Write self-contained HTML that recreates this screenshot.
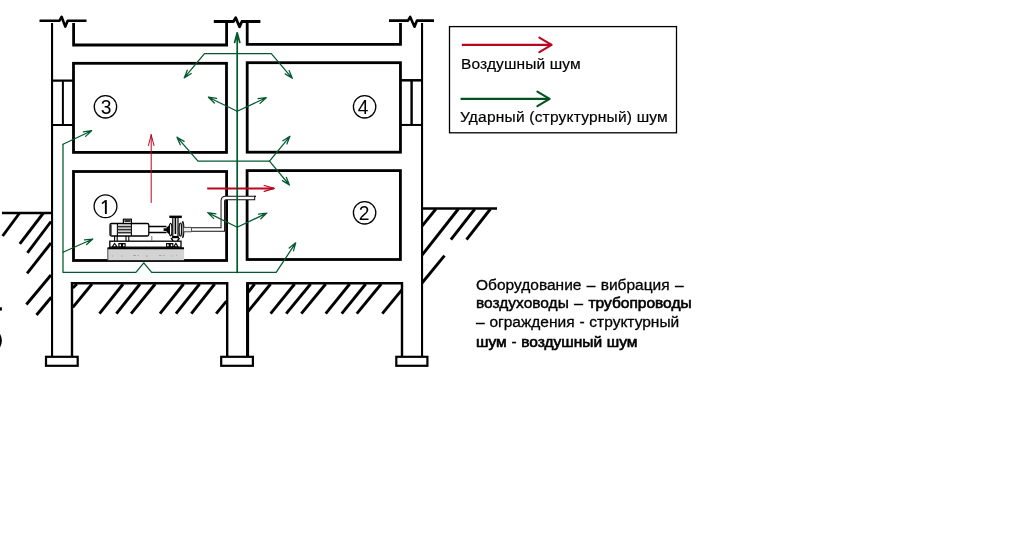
<!DOCTYPE html>
<html>
<head>
<meta charset="utf-8">
<style>
html,body{margin:0;padding:0;background:#fff;}
body{width:1012px;height:545px;overflow:hidden;position:relative;font-family:"Liberation Sans",sans-serif;}
svg{position:absolute;left:0;top:0;}
.t{will-change:transform;position:absolute;white-space:nowrap;color:#000;font-family:"Liberation Sans",sans-serif;}
.leg{-webkit-text-stroke:0.2px #000;font-size:15.5px;line-height:18px;}
.num{font-size:19.3px;line-height:22px;width:14px;text-align:center;}
.b1{-webkit-text-stroke:0.45px #000;}
.b2{-webkit-text-stroke:0.65px #000;}
.par{-webkit-text-stroke:0.3px #000;font-size:15.5px;line-height:19px;left:476.3px;}
</style>
</head>
<body>
<svg width="1012" height="545" viewBox="0 0 1012 545">
<!-- STRUCTURE -->
<g id="structure" fill="none" stroke="#000" stroke-linecap="butt" stroke-linejoin="miter">
  <!-- break lines on top -->
  <path d="M39.5 20.7 H59.5 L61.6 16.8 L65.3 26.6 L67.7 20.7 H86.5" stroke-width="2.6" stroke-linejoin="round"/>
  <path d="M213.8 21.5 H233.5 L235.7 17.8 L239.5 26.8 L241.9 21.5 H260.4" stroke-width="2.8" stroke-linejoin="round"/>
  <path d="M389 20.6 H408 L410.2 16.9 L414.5 26.7 L417 20.6 H434" stroke-width="2.6" stroke-linejoin="round"/>
  <!-- outer walls -->
  <path d="M52.05 23 V357" stroke-width="2.1"/>
  <path d="M422.05 23 V357" stroke-width="2.1"/>
  <!-- top partial rooms -->
  <path d="M73.6 23 V45 H226.6 V23" stroke-width="2.8"/>
  <path d="M247.2 23 V44.3 H400.5 V23" stroke-width="2.8"/>
  <!-- rooms -->
  <rect x="73.5" y="63.3" width="153" height="89.1" stroke-width="2.8"/>
  <rect x="247.2" y="62.7" width="153.25" height="89.5" stroke-width="2.8"/>
  <rect x="73.5" y="171.5" width="153.1" height="89" stroke-width="2.8"/>
  <rect x="247.1" y="170.6" width="153.3" height="88.9" stroke-width="2.8"/>
  <!-- windows -->
  <path d="M52 80.6 H73 M52 125.05 H73" stroke-width="2.05"/>
  <path d="M62.9 80.6 V125" stroke-width="2"/>
  <path d="M401 80.3 H422" stroke-width="2.5"/><path d="M401 124.95 H422" stroke-width="2"/>
  <path d="M411.6 80.3 V125" stroke-width="2.4"/>
  <!-- lower boxes -->
  <path d="M72 357 V283.3 H227.2 V357" stroke-width="2.4"/>
  <path d="M247.4 357 V283.3 H402 V357" stroke-width="2.4"/>
  <path d="M247.6 283 V357" stroke-width="3"/>
  <!-- footings -->
  <rect x="46" y="356.8" width="31.7" height="9" stroke-width="2.2" fill="#fff"/>
  <rect x="221.2" y="356.8" width="31.7" height="9" stroke-width="2.2" fill="#fff"/>
  <rect x="396.3" y="356.8" width="31.1" height="9" stroke-width="2.2" fill="#fff"/>
  <!-- ground lines -->
  <path d="M2 213 H52" stroke-width="2.5"/>
  <path d="M422 208.5 H497" stroke-width="2.5"/>
</g>
<!-- HATCH -->
<g id="hatch" fill="none" stroke="#000" stroke-width="2.9" stroke-linecap="butt">
  <!-- left ground -->
  <path d="M19.6 213 L2.6 236"/>
  <path d="M43.4 213 L19.8 243.9"/>
  <path d="M51 221.5 L27.4 252.8"/>
  <path d="M51 243 L27.1 273.3"/>
  <path d="M51 275 L26.4 304.5"/>
  <path d="M51.3 297.3 L36.5 315"/>
  <!-- right ground -->
  <path d="M435.9 209 L422 226.2"/>
  <path d="M458.3 209 L422 255.2"/>
  <path d="M474.8 209 L450.9 239.6"/>
  <path d="M490.4 209 L466.5 239.6"/>
  <path d="M444.5 255.6 L422 283"/>
  <!-- lower left box -->
  <path d="M76.9 284 L72.8 288"/>
  <path d="M92 284 L72.8 307.4"/>
  <path d="M123.1 284 L99.5 313.6"/>
  <path d="M140 284 L116.4 313.6"/>
  <path d="M155.2 284 L131.1 313.6"/>
  <path d="M183.6 284 L160 313.6"/>
  <path d="M199.6 284 L176 313.6"/>
  <path d="M214.7 284 L191.3 313.6"/>
  <path d="M226.5 301.1 L216.2 313.6"/>
  <!-- lower right box -->
  <path d="M254.6 284 L248.3 292.2"/>
  <path d="M270.6 284 L247.8 311.8"/>
  <path d="M294.6 284 L270.6 313.6"/>
  <path d="M310.6 284 L286.2 313.6"/>
  <path d="M325.7 284 L301.3 313.6"/>
  <path d="M349.7 284 L325.7 313.6"/>
  <path d="M365.7 284 L341.7 313.6"/>
  <path d="M381.2 284 L356.8 313.6"/>
  <path d="M402 289.6 L382.3 313.6"/>
</g>
<!-- edge artefacts -->
<rect x="0" y="307.3" width="1.9" height="3.3" fill="#000"/>
<path d="M-1 334.2 Q2.6 340.5 -1 347" stroke="#000" stroke-width="2.2" fill="none"/>
<!-- PUMP -->
<g id="pump" stroke="#000" fill="#fff" stroke-width="1.2">
  <!-- outlet pipe (white with thin outline) -->
  <path d="M183.5 229.55 H222.8 V201 Q222.8 197.95 225.8 197.95 H255.2" fill="none" stroke="#111" stroke-width="4.5" stroke-linejoin="miter"/>
  <path d="M183.5 229.55 H222.8 V201 Q222.8 197.95 225.8 197.95 H254.2" fill="none" stroke="#fff" stroke-width="2.5" stroke-linejoin="miter"/>
  <path d="M254.6 196.4 H256" fill="none" stroke="#111" stroke-width="1.2"/>
  <!-- concrete base -->
  <rect x="107.5" y="248.6" width="76.6" height="11.6" fill="#d3d3d3" stroke="none"/>
  <path d="M107.6 248.2 H184" stroke-width="2" fill="none"/>
  <path d="M107.8 248 V260" stroke="#444" stroke-width="0.9" fill="none"/>
  <g stroke="#999" stroke-width="0.8" fill="none"><path d="M112 256 h1 M121 256 h1.5 M133 255.5 h3 M137.5 255.5 h1.5 M146 256 h2 M159 255.5 h2.5 M163 255.5 h1.5 M172 256 h1 M176 255.5 h0.8"/></g>
  <!-- base frame -->
  <rect x="109.8" y="241.2" width="71.2" height="6" stroke-width="1.3"/>
  <path d="M112.3 246.8 l2.3 -3.4 l2.3 3.4 z M118.9 243.6 h2.6 v3.3 h-2.6z M122.5 243.6 h2.6 v3.3 h-2.6z M166.6 243.6 h2.6 v3.3 h-2.6z M170.2 243.6 h2.6 v3.3 h-2.6z M173.8 246.8 l2.1 -3.4 l2.1 3.4 z" fill="#fff" stroke="#000" stroke-width="1.1"/>
  <!-- motor feet -->
  <path d="M114.6 236 v5 M117.2 236 v5 M126 236 v5 M128.8 236 v5" fill="none" stroke-width="1.1"/>
  <path d="M151.8 236 V241" fill="none" stroke="#555" stroke-width="0.8"/>
  <!-- shaft / coupling -->
  <rect x="148.8" y="226.2" width="19.5" height="6.6" fill="#fff" stroke="none"/>
  <path d="M148.8 226.6 H166.5 M148.8 232.4 H166.5" fill="none" stroke-width="1.5"/>
  <path d="M163.6 229.6 H167" fill="none" stroke="#000" stroke-width="2.6"/>
  <!-- motor -->
  <rect x="110" y="223.5" width="38.8" height="12.5" rx="1.5" stroke-width="1.3"/>
  <path d="M111 224.5 V235 M117.4 223.5 V236 M131.4 223.5 V236" fill="none" stroke-width="1.1"/>
  <path d="M117.4 226.6 H131.4 M117.4 229.6 H131.4 M117.4 232.6 H131.4" fill="none" stroke="#333" stroke-width="1.6"/>
  <rect x="123.4" y="219.2" width="8" height="4.3" stroke-width="1.2"/>
  <path d="M124.4 221 H130.6" fill="none" stroke="#333" stroke-width="2.2"/>
  <!-- pump casing -->
  <path d="M166.5 227.5 L169.5 225 V234.5 L166.5 232 Z" fill="#000" stroke="none"/>
  <ellipse cx="170.6" cy="229.6" rx="1.3" ry="6.2" stroke-width="1.2"/>
  <rect x="172.8" y="217.5" width="5.2" height="19" stroke-width="1.2"/>
  <path d="M175.4 218 V234" fill="none" stroke-width="1.6"/>
  <path d="M169.3 216.8 H181.8" fill="none" stroke-width="2.4"/>
  <ellipse cx="180.3" cy="229.6" rx="1.2" ry="6.6" stroke-width="1.2"/>
  <ellipse cx="182.8" cy="229.6" rx="1" ry="8" stroke-width="1.2"/>
  <path d="M171 238 l2.2 3 M179.5 238 l-2.2 3 M172 237.5 H179" fill="none" stroke-width="1.3"/>
  <path d="M183.8 227.4 H191.5 V231.8 H183.8" fill="#eee" stroke="#444" stroke-width="0.9"/>
</g>
<!-- RED -->
<g id="red" fill="none" stroke="#b8081f" stroke-linecap="round" stroke-linejoin="round">
  <path d="M151.2 202.5 L151.2 134.9 M154.0 145.5 L151.2 134.9 M148.4 145.5 L151.2 134.9" stroke-width="1.0"/>
  <path d="M207.2 188.4 H273.8" stroke-width="2" stroke-linecap="butt"/><path d="M264.2 185.5 L274.3 188.4 L264.2 191.4" stroke-width="1.3"/>
  <path d="M461.8 44.9 L551.6 44.9" stroke-width="2.1" stroke-linecap="butt"/><path d="M539.4 52.2 L551.6 44.9 M539.4 37.6 L551.6 44.9" stroke-width="2.1"/>
</g>
<!-- GREEN -->
<g id="green" fill="none" stroke="#04592f" stroke-width="1.25" stroke-linecap="round" stroke-linejoin="round">
  <path d="M237.2 272.4 L237.2 32.8 M239.8 42.5 L237.2 32.8 M234.6 42.5 L237.2 32.8" stroke-width="1.7"/>
  <path d="M237.2 53.6 L204.5 53.6 L184.2 77.9 M187.3 70.2 L184.2 77.9 M191.2 73.5 L184.2 77.9"/>
  <path d="M237.2 53.6 L271.3 53.6 L292.3 78.3 M285.2 73.9 L292.3 78.3 M289.1 70.6 L292.3 78.3"/>
  <path d="M237.2 111.2 L208.4 97.2 M216.6 98.3 L208.4 97.2 M214.4 103.0 L208.4 97.2"/>
  <path d="M237.2 111.2 L266.2 97.7 M260.1 103.4 L266.2 97.7 M258.0 98.7 L266.2 97.7"/>
  <path d="M237.2 161.1 L198.0 161.1 L177.0 137.2 M184.1 141.4 L177.0 137.2 M180.3 144.8 L177.0 137.2"/>
  <path d="M237.2 161.1 L269.5 161.1 L289.9 136.3 M286.9 144.0 L289.9 136.3 M282.9 140.8 L289.9 136.3"/>
  <path d="M269.5 161.1 L289.4 185.0 M282.4 180.6 L289.4 185.0 M286.3 177.3 L289.4 185.0"/>
  <path d="M237.2 227.2 L207.7 212.6 M215.9 213.8 L207.7 212.6 M213.6 218.4 L207.7 212.6"/>
  <path d="M237.2 227.2 L266.8 213.1 M260.8 218.8 L266.8 213.1 M258.6 214.2 L266.8 213.1"/>
  <path d="M63.0 144.3 L63.0 272.4 L135.9 272.4 L143.8 262.8 L151.7 272.4 L276.2 272.4 L295.7 242.8 M293.5 250.8 L295.7 242.8 M289.2 248.0 L295.7 242.8"/>
  <path d="M63.0 144.3 L91.6 130.7 M85.6 136.4 L91.6 130.7 M83.4 131.8 L91.6 130.7"/>
  <path d="M63.0 252.2 L92.8 239.0 M86.6 244.5 L92.8 239.0 M84.5 239.9 L92.8 239.0"/>
  <path d="M460.6 98.9 L549.6 98.9" stroke-width="2.1" stroke-linecap="butt" stroke="#00521f"/><path d="M537.4 106.2 L549.6 98.9 M537.4 91.6 L549.6 98.9" stroke-width="2.1" stroke="#00521f"/>
</g>
<!-- CIRCLES -->
<g id="circles" fill="none" stroke="#000" stroke-width="1.3">
  <circle cx="105.45" cy="106.8" r="11.2"/>
  <circle cx="364.6" cy="106.8" r="11.2"/>
  <circle cx="105.5" cy="206.3" r="11.4"/>
  <circle cx="364.6" cy="212.8" r="11.2"/>
</g>
<!-- digit 1 -->
<path d="M102 203.6 L105.3 200.9" stroke="#000" stroke-width="1.5" fill="none"/>
<rect x="104.9" y="200.1" width="1.9" height="13.9" fill="#000"/>
<!-- LEGEND -->
<rect x="449.5" y="26.6" width="227" height="106.2" fill="none" stroke="#000" stroke-width="1.3"/>
</svg>
<div class="t leg" id="l1" style="left:460.8px;top:54.6px;letter-spacing:0.13px;">Воздушный шум</div>
<div class="t leg" id="l2" style="left:459.8px;top:108.4px;letter-spacing:0.21px;">Ударный (структурный) шум</div>
<div class="t par" id="p1" style="top:274.6px;word-spacing:1px;">Оборудование – вибрация –</div>
<div class="t par" id="p2" style="top:293.4px;word-spacing:1.2px;"><span class="b1">воздуховоды</span> <span class="b2">– трубопроводы</span></div>
<div class="t par" id="p3" style="top:312.2px;word-spacing:0.5px;">– ограждения - структурный</div>
<div class="t par" id="p4" style="top:331.6px;word-spacing:0.4px;"><span class="b2">шум</span> - <span class="b2">воздушный шум</span></div>
<div class="t num" id="n3" style="left:99.2px;top:97.2px;">3</div>
<div class="t num" id="n4" style="left:356.3px;top:96.8px;">4</div>
<div class="t num" id="n2" style="left:357.1px;top:202.8px;">2</div>
</body>
</html>
